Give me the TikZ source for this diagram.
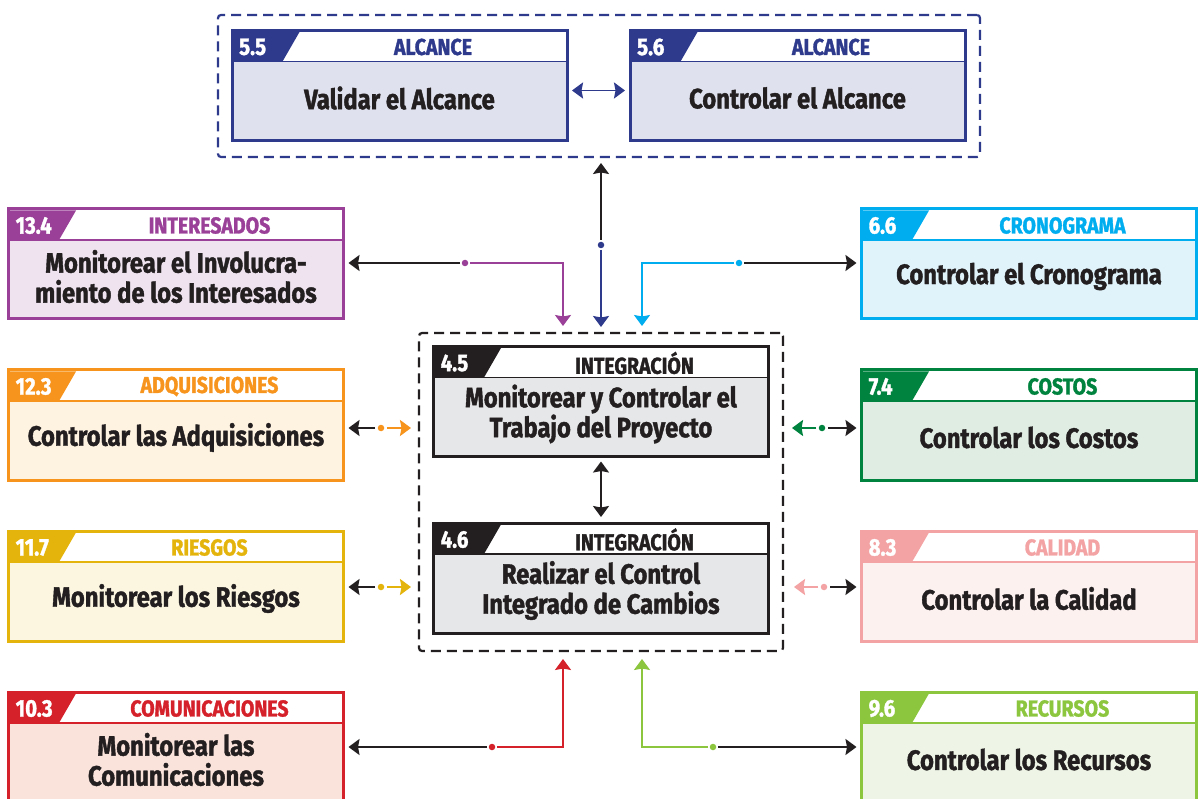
\documentclass[tikz,border=0pt]{standalone}
\usepackage{fontspec}
\setmainfont{Fira Sans}[FakeStretch=0.85, BoldFeatures={FakeBold=1.4}]
\usetikzlibrary{arrows.meta,calc}
\definecolor{gen}{HTML}{231F20}\definecolor{genf}{HTML}{E6E7E8}
\definecolor{alc}{HTML}{2E3A8C}\definecolor{alcf}{HTML}{DFE1EE}
\definecolor{intc}{HTML}{9A4098}\definecolor{intf}{HTML}{EEE3EF}
\definecolor{cro}{HTML}{00AEEF}\definecolor{crof}{HTML}{E0F3FB}
\definecolor{adq}{HTML}{F7941D}\definecolor{adqf}{HTML}{FEF2E0}
\definecolor{cos}{HTML}{00833E}\definecolor{cosf}{HTML}{DFEDE3}
\definecolor{rie}{HTML}{E4B40C}\definecolor{rief}{HTML}{FCF6E1}
\definecolor{cal}{HTML}{F4A3A4}\definecolor{calf}{HTML}{FDF1F0}
\definecolor{com}{HTML}{D4212A}\definecolor{comf}{HTML}{F9E3DB}
\definecolor{rec}{HTML}{8CC63F}\definecolor{recf}{HTML}{EEF5E6}
\tikzset{
  pbox/.style={rectangle, minimum width=335pt, minimum height=110pt, line width=3pt, outer sep=0pt, inner sep=0pt},
  maintxt/.style={font=\fontsize{28}{30}\selectfont\bfseries, text=gen, align=center, inner sep=0pt},
  cattxt/.style={font=\fontsize{23}{24}\selectfont\bfseries, inner sep=0pt},
  numtxt/.style={font=\fontsize{24}{25}\selectfont\bfseries, text=white, inner sep=0pt},
  grp/.style={rectangle, dashed, dash pattern=on 10pt off 6pt, line width=2.2pt, rounded corners=3pt, inner sep=0pt, outer sep=0pt},
  conn/.style={line width=1.9pt},
  >={Stealth[length=11pt,width=16pt,inset=1.5pt]},
  dotc/.style={circle, inner sep=0pt, minimum size=6.5pt}
}
\newcommand\procbox[7]{%
  \node[pbox, draw=#3, fill=#4] (#1) at #2 {};
  \fill[white] ($(#1.north west)+(1.5,1.5)$) rectangle ($(#1.north east)+(-1.5,31)$);
  \draw[#3, line width=1.8pt] ($(#1.north west)+(1.5,31)$) -- ($(#1.north east)+(-1.5,31)$);
  \fill[#3] ($(#1.north west)+(1.5,1.5)$) -- ++(66,0) -- ++(-17,29.5) -- ($(#1.north west)+(1.5,31)$) -- cycle;
  \node[numtxt, anchor=west] (#1-n) at ($(#1.north west)+(7,16.5)$) {#5};
  \node[cattxt, text=#3] (#1-c) at ($(#1.north west)+(201,16.5)$) {#6};
  \node[maintxt] (#1-t) at ($(#1.center)+(0,12.5)$) {#7};
}
\begin{document}
\begin{tikzpicture}[x=1pt,y=-1pt]
\clip (0,0) rectangle (1202,799);
\fill[white] (0,0) rectangle (1202,799);

% groups
\node[grp, draw=alc, minimum width=762pt, minimum height=142pt] (alcgrp) at (599,86) {};
\node[grp, draw=gen, minimum width=364pt, minimum height=318pt] (cgrp) at (601,492) {};

% boxes
\procbox{a55}{(399.5,85.5)}{alc}{alcf}{5.5}{ALCANCE}{Validar el Alcance}
\procbox{a56}{(797.5,85.5)}{alc}{alcf}{5.6}{ALCANCE}{Controlar el Alcance}
\procbox{i45}{(601,401.5)}{gen}{genf}{4.5}{INTEGRACIÓN}{Monitorear y Controlar el\\Trabajo del Proyecto}
\procbox{i46}{(601,578)}{gen}{genf}{4.6}{INTEGRACIÓN}{Realizar el Control\\Integrado de Cambios}
\procbox{int}{(176,264)}{intc}{intf}{13.4}{INTERESADOS}{Monitorear el Involucra-\\miento de los Interesados}
\procbox{adq}{(176,425)}{adq}{adqf}{12.3}{ADQUISICIONES}{Controlar las Adquisiciones}
\procbox{rie}{(176,586)}{rie}{rief}{11.7}{RIESGOS}{Monitorear los Riesgos}
\procbox{com}{(176,747)}{com}{comf}{10.3}{COMUNICACIONES}{Monitorear las\\Comunicaciones}
\procbox{cro}{(1029,264)}{cro}{crof}{6.6}{CRONOGRAMA}{Controlar el Cronograma}
\procbox{cos}{(1029,425)}{cos}{cosf}{7.4}{COSTOS}{Controlar los Costos}
\procbox{cal}{(1029,586)}{cal}{calf}{8.3}{CALIDAD}{Controlar la Calidad}
\procbox{rec}{(1029,747)}{rec}{recf}{9.6}{RECURSOS}{Controlar los Recursos}

% connectors between paired boxes
\draw[conn, alc, <->, shorten <=5pt, shorten >=5pt] ($(a55.east)+(0,5)$) -- ($(a56.west)+(0,5)$);
\draw[conn, gen, <->, shorten <=5pt, shorten >=6pt] (i45.south) -- (i46.north);

% dot coordinates
\coordinate (dtop) at (601,245);
\coordinate (dint) at (465,263);
\coordinate (dcro) at (739,263);
\coordinate (dadq) at (381,428);
\coordinate (dcos) at (822,428);
\coordinate (drie) at (381,587);
\coordinate (dcal) at (824,587);
\coordinate (dcom) at (492,747);
\coordinate (drec) at (713,747);

% top vertical
\draw[conn, gen, ->, shorten <=5pt, shorten >=6pt] (dtop) -- (dtop |- alcgrp.south);
\draw[conn, alc, ->, shorten <=5pt, shorten >=6pt] (dtop) -- (dtop |- cgrp.north);
\node[dotc, fill=alc] (ntop) at (dtop) {};

% interesados
\draw[conn, gen, ->, shorten <=5pt, shorten >=5pt] (dint) -- (int.east |- dint);
\draw[conn, intc, ->, shorten <=5pt, shorten >=7pt] (dint) -| ($(cgrp.north)+(-38,0)$);
\node[dotc, fill=intc] (nint) at (dint) {};

% cronograma
\draw[conn, gen, ->, shorten <=5pt, shorten >=5pt] (dcro) -- (cro.west |- dcro);
\draw[conn, cro, ->, shorten <=5pt, shorten >=7pt] (dcro) -| ($(cgrp.north)+(41,0)$);
\node[dotc, fill=cro] (ncro) at (dcro) {};

% adquisiciones
\draw[conn, gen, ->, shorten <=6pt, shorten >=5pt] (dadq) -- (adq.east |- dadq);
\draw[conn, adq, ->, shorten <=6pt, shorten >=8pt] (dadq) -- (cgrp.west |- dadq);
\node[dotc, fill=adq] (nadq) at (dadq) {};

% costos
\draw[conn, cos, ->, shorten <=6pt, shorten >=9pt] (dcos) -- (cgrp.east |- dcos);
\draw[conn, gen, ->, shorten <=6pt, shorten >=5pt] (dcos) -- (cos.west |- dcos);
\node[dotc, fill=cos] (ncos) at (dcos) {};

% riesgos
\draw[conn, gen, ->, shorten <=6pt, shorten >=5pt] (drie) -- (rie.east |- drie);
\draw[conn, rie, ->, shorten <=6pt, shorten >=8pt] (drie) -- (cgrp.west |- drie);
\node[dotc, fill=rie] (nrie) at (drie) {};

% calidad
\draw[conn, cal, ->, shorten <=6pt, shorten >=11pt] (dcal) -- (cgrp.east |- dcal);
\draw[conn, gen, ->, shorten <=6pt, shorten >=5pt] (dcal) -- (cal.west |- dcal);
\node[dotc, fill=cal] (ncal) at (dcal) {};

% comunicaciones
\draw[conn, gen, ->, shorten <=5pt, shorten >=5pt] (dcom) -- (com.east |- dcom);
\draw[conn, com, ->, shorten <=5pt, shorten >=8pt] (dcom) -| ($(cgrp.south)+(-38,0)$);
\node[dotc, fill=com] (ncom) at (dcom) {};

% recursos
\draw[conn, gen, ->, shorten <=5pt, shorten >=5pt] (drec) -- (rec.west |- drec);
\draw[conn, rec, ->, shorten <=5pt, shorten >=8pt] (drec) -| ($(cgrp.south)+(41,0)$);
\node[dotc, fill=rec] (nrec) at (drec) {};
\end{tikzpicture}
\end{document}
